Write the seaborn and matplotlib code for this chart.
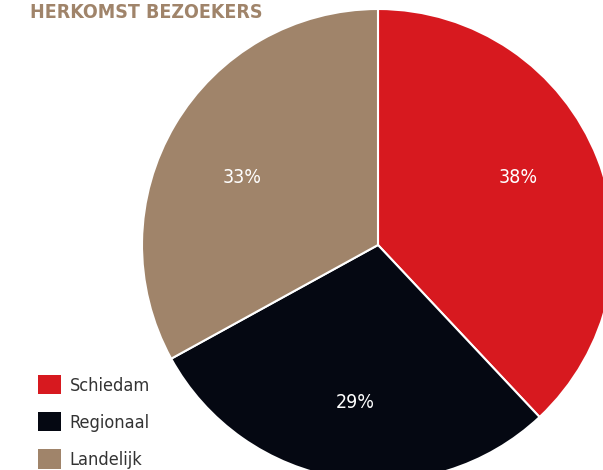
import matplotlib
matplotlib.use("Agg")
import matplotlib.pyplot as plt
import seaborn as sns

# === Datos ===
labels = ["Schiedam", "Regionaal", "Landelijk"]
shares = [38, 29, 33]
colors = ["#D7191F", "#050812", "#A0846A"]
title = "HERKOMST BEZOEKERS"

# posiciones de las etiquetas % (unidades del eje, radio = 1)
pct_pos = [(0.593, 0.284), (-0.097, -0.669), (-0.576, 0.284)]

sns.set_theme(style="white")
plt.rcParams["font.family"] = ["DejaVu Sans", "Liberation Sans"]
plt.rcParams["font.stretch"] = "condensed"

W, H = 603, 470
fig = plt.figure(figsize=(W / 100, H / 100), dpi=100)

# centro del pastel (378, 245) px desde arriba-izquierda, radio 236 px
r = 236
cx, cy = 378, H - 245
ax = fig.add_axes([(cx - r) / W, (cy - r) / H, 2 * r / W, 2 * r / H])

wedges, texts, autotexts = ax.pie(
    shares,
    colors=sns.color_palette(colors),
    startangle=90,
    counterclock=False,
    autopct="%d%%",
    pctdistance=0.66,
    radius=1,
    wedgeprops=dict(edgecolor="white", linewidth=1.5),
    textprops=dict(color="white", fontsize=14),
)
for t, p in zip(autotexts, pct_pos):
    t.set_position(p)
ax.set_xlim(-1, 1)
ax.set_ylim(-1, 1)
ax.set_aspect("equal")
ax.axis("off")

fig.text(30 / W, 1 - 18 / H, title, fontsize=14, fontweight="bold",
         color="#A0846A", ha="left", va="baseline")

leg = fig.legend(
    wedges, labels,
    loc="upper left", bbox_to_anchor=(31 / W, 1 - 368 / H),
    frameon=False, fontsize=13,
    handlelength=1.25, handleheight=1.25,
    handletextpad=0.5, labelspacing=0.97, borderaxespad=0,
)
for t in leg.get_texts():
    t.set_color("#333333")
for h in leg.legend_handles:
    h.set_edgecolor("none")

fig.savefig("out.png", dpi=100)
